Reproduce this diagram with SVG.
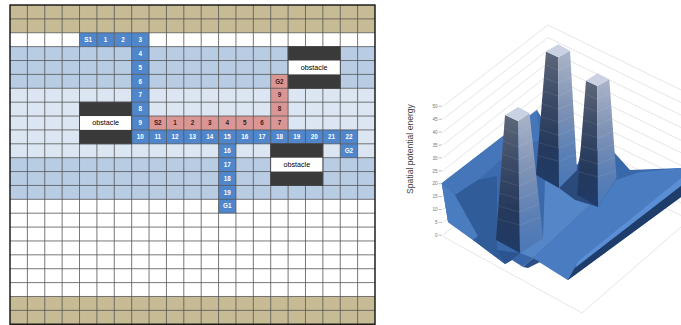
<svg xmlns="http://www.w3.org/2000/svg" width="681" height="325" viewBox="0 0 681 325">
<defs>
<style>
.tan{fill:#c6bb94}
.mb{fill:#b8cce4}
.lb{fill:#dce6f2}
.bc{fill:#4f86cc}
.pc{fill:#da9694}
.gl{stroke:#555;stroke-width:0.8;fill:none}
.t{font-family:"Liberation Sans",Arial,sans-serif;font-size:6.3px;font-weight:bold;text-anchor:middle}
.tw{fill:#ffffff}
.tp{fill:#3a2020}
.dk{fill:#3a3a3a}
.ob{font-family:"Liberation Sans",Arial,sans-serif;font-size:7.2px;text-anchor:middle;fill:#000}
.cg{stroke:#d4d4d4;stroke-width:0.6;fill:none}
.ax{font-family:"Liberation Sans",Arial,sans-serif;font-size:4.6px;text-anchor:end;fill:#777}
.band{fill:none;stroke:#ffffff;stroke-opacity:0.13;stroke-width:0.7}
</style>
<linearGradient id="pl" x1="0" y1="0" x2="0" y2="1">
<stop offset="0" stop-color="#5f687a"/><stop offset="0.35" stop-color="#3b4a66"/><stop offset="0.7" stop-color="#25395c"/><stop offset="1" stop-color="#1f3b68"/>
</linearGradient>
<linearGradient id="pr" x1="0" y1="0" x2="0" y2="1">
<stop offset="0" stop-color="#aab4c8"/><stop offset="0.4" stop-color="#8093b5"/><stop offset="0.75" stop-color="#5a7fb5"/><stop offset="1" stop-color="#4a78b8"/>
</linearGradient>
<linearGradient id="sf" x1="0" y1="0" x2="1" y2="1">
<stop offset="0" stop-color="#3f70b4"/><stop offset="1" stop-color="#3462a2"/>
</linearGradient>
</defs>
<rect width="681" height="325" fill="#ffffff"/>

<g id="grid-bg">
<rect class="tan" x="10" y="5" width="365" height="27.76"/>
<rect class="mb" x="10" y="46.64" width="365" height="41.64"/>
<rect class="lb" x="10" y="88.28" width="365" height="69.40"/>
<rect class="mb" x="10" y="157.68" width="365" height="41.64"/>
<rect class="tan" x="10" y="296.48" width="365" height="27.76"/>
</g>

<g id="path1">
<rect class="bc" x="79.52" y="32.76" width="17.38" height="13.88"/>
<rect class="bc" x="96.90" y="32.76" width="17.38" height="13.88"/>
<rect class="bc" x="114.29" y="32.76" width="17.38" height="13.88"/>
<rect class="bc" x="131.67" y="32.76" width="17.38" height="13.88"/>
<rect class="bc" x="131.67" y="46.64" width="17.38" height="13.88"/>
<rect class="bc" x="131.67" y="60.52" width="17.38" height="13.88"/>
<rect class="bc" x="131.67" y="74.40" width="17.38" height="13.88"/>
<rect class="bc" x="131.67" y="88.28" width="17.38" height="13.88"/>
<rect class="bc" x="131.67" y="102.16" width="17.38" height="13.88"/>
<rect class="bc" x="131.67" y="116.04" width="17.38" height="13.88"/>
<rect class="bc" x="131.67" y="129.92" width="226" height="13.88"/>
<rect class="bc" x="340.24" y="143.80" width="17.38" height="13.88"/>
<rect class="bc" x="218.57" y="143.80" width="17.38" height="69.40"/>
</g>
<g id="path2">
<rect class="pc" x="270.71" y="74.40" width="17.38" height="41.64"/>
<rect class="pc" x="149.05" y="116.04" width="139.05" height="13.88"/>
</g>

<g id="gridlines" class="gl">
<path d="M27.38 5V324.24M44.76 5V324.24M62.14 5V324.24M79.52 5V324.24M96.90 5V324.24M114.29 5V324.24M131.67 5V324.24M149.05 5V324.24M166.43 5V324.24M183.81 5V324.24M201.19 5V324.24M218.57 5V324.24M235.95 5V324.24M253.33 5V324.24M270.71 5V324.24M288.10 5V324.24M305.48 5V324.24M322.86 5V324.24M340.24 5V324.24M357.62 5V324.24"/>
<path d="M10 18.88H375M10 32.76H375M10 46.64H375M10 60.52H375M10 74.40H375M10 88.28H375M10 102.16H375M10 116.04H375M10 129.92H375M10 143.80H375M10 157.68H375M10 171.56H375M10 185.44H375M10 199.32H375M10 213.20H375M10 227.08H375M10 240.96H375M10 254.84H375M10 268.72H375M10 282.60H375M10 296.48H375M10 310.36H375"/>
</g>

<g id="obstacle1">
<rect x="288.10" y="46.64" width="52.14" height="41.64" fill="#ffffff" stroke="#333" stroke-width="0.8"/>
<rect class="dk" x="288.10" y="46.64" width="52.14" height="13.88"/>
<rect class="dk" x="288.10" y="74.40" width="52.14" height="13.88"/>
<text class="ob" x="314.17" y="69.8">obstacle</text>
</g>
<g id="obstacle2">
<rect x="79.52" y="102.16" width="52.15" height="41.64" fill="#ffffff" stroke="#333" stroke-width="0.8"/>
<rect class="dk" x="79.52" y="102.16" width="52.15" height="13.88"/>
<rect class="dk" x="79.52" y="129.92" width="52.15" height="13.88"/>
<text class="ob" x="105.60" y="125.3">obstacle</text>
</g>
<g id="obstacle3">
<rect x="270.71" y="143.80" width="52.15" height="41.64" fill="#ffffff" stroke="#333" stroke-width="0.8"/>
<rect class="dk" x="270.71" y="143.80" width="52.15" height="13.88"/>
<rect class="dk" x="270.71" y="171.56" width="52.15" height="13.88"/>
<text class="ob" x="296.79" y="167.0">obstacle</text>
</g>

<rect x="10" y="5" width="365" height="319.24" fill="none" stroke="#111" stroke-width="1.4"/>

<g id="labels1" class="t tw">
<text x="88.21" y="41.90">S1</text><text x="105.59" y="41.90">1</text><text x="122.98" y="41.90">2</text><text x="140.36" y="41.90">3</text>
<text x="140.36" y="55.78">4</text><text x="140.36" y="69.66">5</text><text x="140.36" y="83.54">6</text><text x="140.36" y="97.42">7</text>
<text x="140.36" y="111.30">8</text><text x="140.36" y="125.18">9</text>
<text x="140.36" y="139.06">10</text><text x="157.74" y="139.06">11</text><text x="175.12" y="139.06">12</text><text x="192.50" y="139.06">13</text>
<text x="209.88" y="139.06">14</text><text x="227.26" y="139.06">15</text><text x="244.64" y="139.06">16</text><text x="262.02" y="139.06">17</text>
<text x="279.40" y="139.06">18</text><text x="296.79" y="139.06">19</text><text x="314.17" y="139.06">20</text><text x="331.55" y="139.06">21</text>
<text x="348.93" y="139.06">22</text><text x="348.93" y="152.94">G2</text>
<text x="227.26" y="152.94">16</text><text x="227.26" y="166.82">17</text><text x="227.26" y="180.70">18</text><text x="227.26" y="194.58">19</text><text x="227.26" y="208.46">G1</text>
</g>
<g id="labels2" class="t tp">
<text x="279.40" y="83.54">G2</text><text x="279.40" y="97.42">9</text><text x="279.40" y="111.30">8</text>
<text x="157.74" y="125.18">S2</text><text x="175.12" y="125.18">1</text><text x="192.50" y="125.18">2</text><text x="209.88" y="125.18">3</text>
<text x="227.26" y="125.18">4</text><text x="244.64" y="125.18">5</text><text x="262.02" y="125.18">6</text><text x="279.40" y="125.18">7</text>
</g>

<g id="chart-walls" class="cg">
<path d="M443 235.3L548 150.5L681 215.5M443 222.4L548 137.95L681 202.95M443 209.5L548 125.4L681 190.4M443 196.6L548 112.85L681 177.85M443 183.7L548 100.3L681 165.3M443 170.8L548 87.75L681 152.75M443 157.9L548 75.2L681 140.2M443 145L548 62.65L681 127.65M443 132.1L548 50.1L681 115.1M443 119.2L548 37.55L681 102.55M443 106.3L548 25L681 90"/>
<path d="M443 236.5L582 313L681 227"/>
<path d="M438.5 235.3H442M438.5 222.4H442M438.5 209.5H442M438.5 196.6H442M438.5 183.7H442M438.5 170.8H442M438.5 157.9H442M438.5 145H442M438.5 132.1H442M438.5 119.2H442M438.5 106.3H442" stroke="#999"/>
</g>
<g id="chart-axis" class="ax">
<text x="437.5" y="237">0</text><text x="437.5" y="224.1">5</text><text x="437.5" y="211.2">10</text><text x="437.5" y="198.3">15</text>
<text x="437.5" y="185.4">20</text><text x="437.5" y="172.5">25</text><text x="437.5" y="159.6">30</text><text x="437.5" y="146.7">35</text>
<text x="437.5" y="133.8">40</text><text x="437.5" y="120.9">45</text><text x="437.5" y="108">50</text>
</g>
<text transform="translate(413 149) rotate(-90)" font-family="Liberation Sans, Arial, sans-serif" font-size="8.6" text-anchor="middle" fill="#404040">Spatial potential energy</text>

<g id="surface">
<path fill="url(#sf)" d="M441.7 183.3L537 110L546 125L560 150L577 165L586 150L612 150L630 170L681 168L681 197L568 280L533 258L523 267L512 260L505 264L473 240L448 222Z"/>
<path fill="#4576ba" d="M441.7 183.3L537 110L540 140L512 150L478 180L455 195Z"/>
<path fill="#4a7cc0" d="M441.7 183.3L455 195L478 236L473 240L448 222Z"/>
<path fill="#305c9a" d="M455 195L478 180L497 176L497 250L505 264L473 240L478 236Z"/>
<path fill="#2c558f" d="M497 250L520 253L512 260L505 264Z"/>
<path fill="#2b4a7c" d="M559 188L577 170L581 150L586 150L579 196L598 207L575 200Z"/>
<path fill="#5486c8" d="M543 238L545 180L559 188L575 200L598 207L590 205L533 258L520 253Z"/>
<path fill="#4a7cc2" d="M533 258L590 205L598 207L616 180L640 172L681 168L681 178L577 262L568 280Z"/>
<path fill="#5a8fd6" d="M577 262L681 178L681 186L575 268Z"/>
<path fill="#1f3d6b" d="M575 268L681 186L681 197L568 280Z"/>
<path fill="#2a4f86" d="M523 267L533 258L540 262L528 268Z"/>
</g>

<g id="pillar2">
<path fill="url(#pl)" d="M546 51.5L558.3 57.3L559 188L536 175Z"/>
<path fill="url(#pr)" d="M558.3 57.3L570 50.7L577 170L559 188Z"/>
<path fill="#c9d1e3" d="M546 51.5L558.3 44.3L570 50.7L558.3 57.3Z"/>
<path class="band" d="M545 64.5L558.4 70.3L570.8 63.7M543.9 77.5L558.4 83.3L571.5 76.7M542.8 90.5L558.5 96.3L572.3 89.7M541.8 103.5L558.5 109.3L573.1 102.7M540.7 116.5L558.6 122.3L573.8 115.7M539.7 129.5L558.7 135.3L574.6 128.7M538.6 142.5L558.7 148.3L575.4 141.7M537.6 155.5L558.8 161.3L576.1 154.7"/>
</g>
<g id="pillar3">
<path fill="url(#pl)" d="M586 80.7L597.3 86L598 207L577 195Z"/>
<path fill="url(#pr)" d="M597.3 86L609.3 79.3L616.5 178L598 207Z"/>
<path fill="#c9d1e3" d="M586 80.7L597.3 73.3L609.3 79.3L597.3 86Z"/>
<path class="band" d="M585 93.7L597.4 99L610.2 92.3M584 106.7L597.5 112L611.2 105.3M582.9 119.7L597.5 125L612.1 118.3M581.9 132.7L597.6 138L613.1 131.3M580.9 145.7L597.6 151L614 144.3M579.9 158.7L597.7 164L615 157.3M578.8 171.7L597.8 177L615.9 170.3"/>
</g>
<g id="pillar1">
<path fill="url(#pl)" d="M505 115L518 121L520 253L496 240Z"/>
<path fill="url(#pr)" d="M518 121L529.5 113L543 238L520 253Z"/>
<path fill="#c9d1e3" d="M505 115L518 107L529.5 113L518 121Z"/>
<path class="band" d="M503.9 128L518.2 134L530.9 126M503.1 141L518.4 147L532.3 139M502.2 154L518.6 160L533.7 152M501.3 167L518.8 173L535.1 165M500.3 180L519 186L536.5 178M499.4 193L519.2 199L537.9 191M498.4 206L519.4 212L539.3 204M497.5 219L519.6 225L540.7 217"/>
</g>
</svg>
